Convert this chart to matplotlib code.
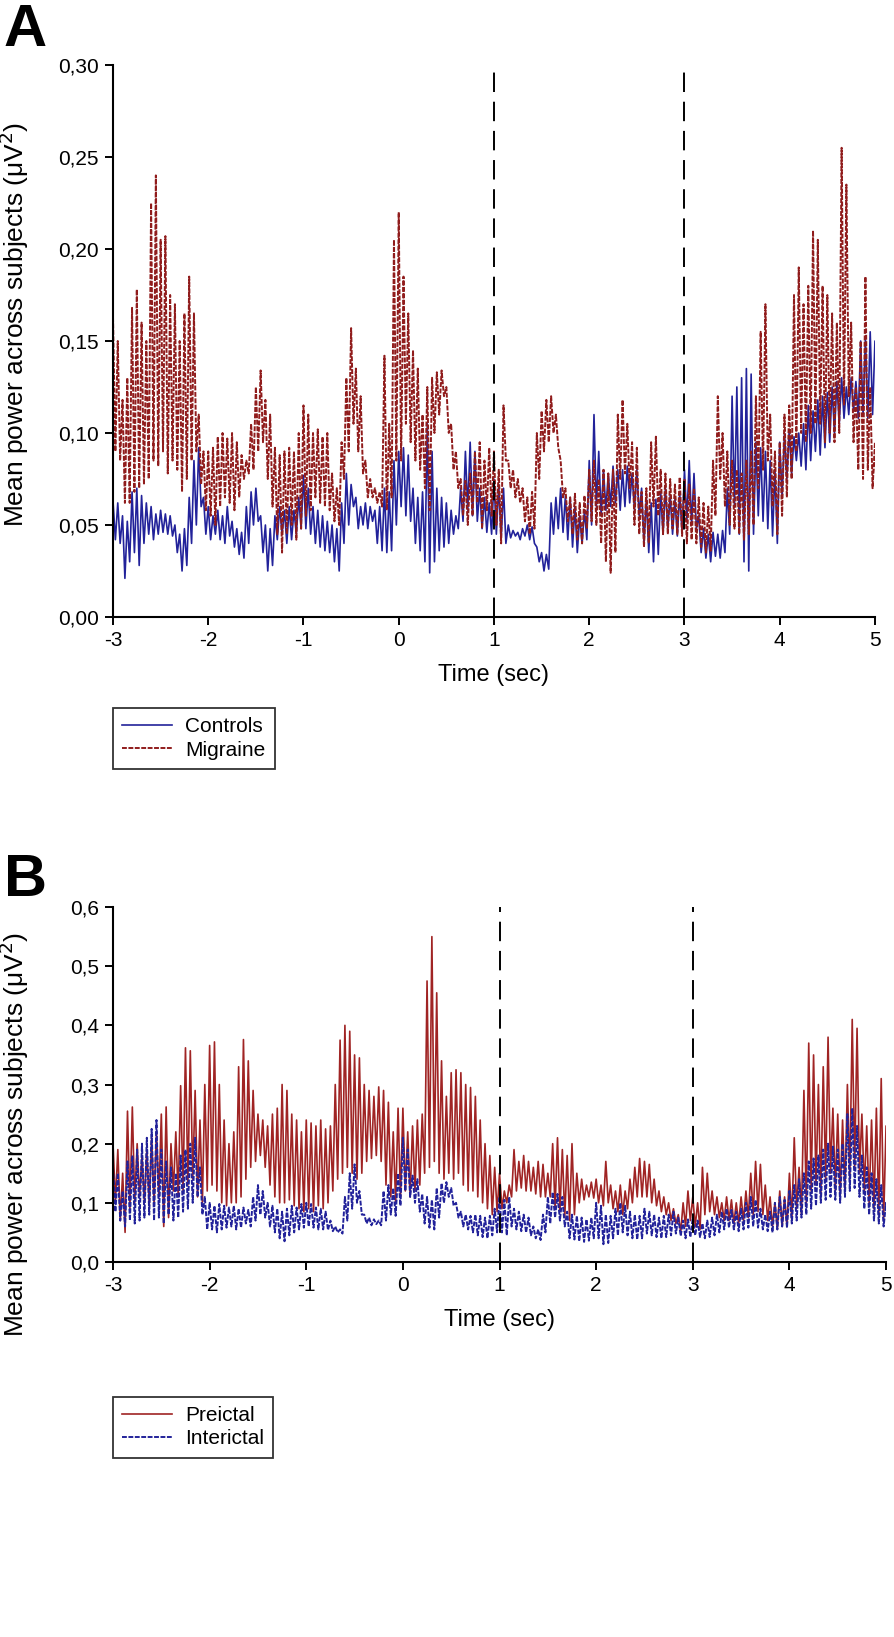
import numpy as np
import matplotlib
matplotlib.use('Agg')
import matplotlib.pyplot as plt

plt.rcParams['font.family'] = ['Liberation Sans', 'DejaVu Sans']

# sample grid, 0.05 s steps from -3 to 5 s
t = np.round(np.arange(161) * 0.05 - 3, 3)

# ---- panel A: Controls vs Migraine (peak / trough read per 0.05 s) ----
mig_hi = [
    .163, .150, .118, .130, .168, .178, .160, .150, .225, .240, .205, .207, .175, .170, .150, .165, .185, .165, .110, .090,
    .090, .092, .098, .100, .097, .100, .095, .088, .085, .105, .125, .134, .118, .110, .092, .088, .090, .092, .090, .100,
    .115, .110, .100, .102, .098, .100, .078, .070, .095, .130, .157, .135, .120, .085, .075, .070, .068, .142, .105, .205,
    .220, .185, .165, .145, .135, .110, .125, .130, .133, .134, .125, .105, .090, .075, .074, .078, .090, .095, .085, .092,
    .090, .080, .115, .085, .080, .075, .070, .065, .068, .100, .112, .118, .120, .110, .085, .070, .065, .067, .062, .066,
    .080, .085, .075, .080, .078, .080, .110, .118, .105, .095, .092, .068, .070, .095, .098, .080, .078, .075, .072, .076,
    .075, .072, .070, .065, .062, .060, .085, .120, .100, .090, .085, .080, .078, .085, .090, .120, .155, .170, .110, .090,
    .095, .110, .115, .175, .190, .170, .180, .210, .205, .180, .175, .165, .160, .255, .235, .160, .125, .150, .185, .125,
    .095]
mig_lo = [
    .090, .085, .062, .062, .068, .070, .072, .075, .085, .082, .090, .078, .085, .080, .068, .075, .085, .090, .072, .058,
    .055, .050, .060, .065, .062, .058, .065, .075, .078, .080, .090, .095, .075, .060, .045, .035, .045, .050, .042, .048,
    .055, .058, .065, .062, .060, .058, .052, .050, .075, .090, .105, .090, .078, .065, .065, .062, .060, .058, .065, .085,
    .085, .105, .095, .085, .080, .070, .058, .100, .110, .120, .100, .080, .070, .055, .050, .055, .062, .048, .058, .055,
    .050, .040, .085, .070, .065, .062, .052, .045, .048, .075, .090, .095, .100, .092, .065, .052, .045, .042, .040, .048,
    .052, .050, .040, .030, .024, .035, .075, .078, .070, .050, .045, .038, .040, .060, .055, .045, .045, .048, .045, .044,
    .040, .042, .040, .038, .035, .036, .055, .075, .060, .050, .048, .045, .042, .045, .050, .070, .080, .085, .060, .045,
    .055, .065, .075, .090, .100, .095, .100, .105, .105, .095, .100, .095, .100, .115, .120, .095, .080, .075, .080, .070,
    .053]
ctl_hi = [
    .063, .062, .055, .052, .068, .070, .066, .062, .060, .056, .058, .056, .055, .050, .045, .048, .065, .085, .092, .065,
    .060, .055, .058, .055, .060, .052, .048, .046, .060, .068, .070, .055, .050, .048, .055, .060, .058, .060, .058, .065,
    .077, .070, .060, .058, .055, .052, .050, .048, .062, .078, .072, .065, .060, .062, .060, .058, .060, .070, .068, .085,
    .090, .092, .088, .070, .065, .068, .105, .090, .070, .065, .062, .058, .055, .070, .090, .095, .090, .070, .065, .062,
    .075, .072, .070, .050, .047, .046, .048, .050, .049, .038, .035, .034, .062, .065, .070, .066, .065, .060, .055, .058,
    .085, .110, .090, .080, .078, .082, .080, .080, .082, .078, .080, .070, .065, .062, .064, .068, .070, .066, .064, .067,
    .080, .085, .078, .055, .048, .045, .046, .045, .047, .070, .120, .125, .130, .135, .132, .095, .092, .090, .085, .080,
    .095, .100, .102, .098, .100, .105, .115, .112, .118, .120, .122, .125, .128, .130, .125, .130, .128, .150, .152, .155,
    .150]
ctl_lo = [
    .042, .040, .021, .030, .035, .028, .040, .045, .042, .045, .046, .045, .044, .035, .025, .028, .040, .050, .060, .045,
    .042, .045, .042, .040, .044, .038, .034, .032, .040, .050, .052, .035, .025, .028, .042, .045, .040, .042, .045, .048,
    .048, .045, .040, .038, .036, .035, .030, .025, .040, .050, .060, .048, .050, .048, .052, .040, .036, .035, .036, .050,
    .060, .055, .052, .040, .036, .030, .024, .030, .036, .038, .040, .045, .048, .052, .058, .055, .052, .048, .046, .045,
    .045, .042, .040, .043, .044, .042, .044, .042, .040, .030, .025, .026, .045, .048, .046, .042, .038, .035, .040, .042,
    .050, .060, .055, .058, .060, .062, .058, .060, .062, .058, .055, .040, .035, .030, .034, .045, .048, .045, .044, .046,
    .052, .050, .048, .035, .032, .030, .033, .032, .035, .045, .060, .045, .030, .025, .045, .055, .052, .048, .044, .040,
    .065, .075, .078, .085, .082, .080, .085, .090, .088, .092, .095, .100, .105, .108, .110, .112, .108, .110, .108, .110,
    .112]

# ---- panel B: Preictal vs Interictal ----
pre_hi = [
    .200, .190, .150, .255, .262, .200, .180, .190, .210, .220, .250, .262, .200, .220, .298, .362, .357, .290, .240, .300,
    .366, .372, .300, .240, .200, .220, .330, .376, .340, .290, .250, .240, .230, .250, .260, .300, .290, .250, .240, .220,
    .240, .235, .230, .240, .225, .230, .300, .375, .400, .390, .350, .345, .300, .290, .280, .296, .290, .270, .220, .260,
    .260, .220, .230, .240, .250, .475, .550, .455, .340, .280, .320, .325, .320, .300, .295, .280, .240, .200, .180, .160,
    .150, .120, .130, .190, .170, .180, .170, .160, .170, .165, .150, .200, .210, .190, .180, .200, .150, .140, .130, .135,
    .140, .130, .170, .130, .120, .130, .120, .140, .160, .175, .170, .165, .140, .120, .110, .100, .090, .080, .100, .120,
    .110, .100, .160, .150, .120, .110, .100, .110, .105, .100, .110, .120, .150, .170, .165, .130, .110, .100, .120, .110,
    .150, .210, .160, .290, .370, .350, .300, .330, .380, .260, .250, .240, .300, .410, .395, .250, .230, .240, .260, .310,
    .230]
pre_lo = [
    .100, .070, .050, .090, .100, .110, .100, .095, .100, .110, .060, .075, .120, .110, .120, .130, .140, .110, .100, .120,
    .130, .120, .100, .095, .100, .100, .110, .140, .160, .170, .180, .160, .130, .110, .100, .100, .105, .095, .090, .085,
    .090, .085, .095, .090, .100, .120, .140, .150, .160, .150, .140, .150, .170, .175, .180, .170, .130, .110, .100, .110,
    .120, .110, .120, .130, .150, .160, .170, .150, .140, .150, .140, .150, .130, .120, .120, .110, .100, .090, .080, .085,
    .090, .100, .110, .120, .125, .120, .120, .115, .110, .110, .110, .090, .085, .075, .070, .080, .100, .105, .110, .108,
    .100, .095, .100, .090, .085, .080, .090, .100, .110, .110, .110, .100, .095, .085, .080, .070, .065, .050, .060, .070,
    .060, .055, .080, .085, .080, .075, .070, .070, .065, .065, .070, .075, .080, .085, .080, .070, .060, .055, .060, .060,
    .070, .090, .080, .100, .120, .130, .110, .140, .150, .120, .110, .120, .140, .160, .150, .120, .100, .090, .080, .070,
    .150]
int_hi = [
    .160, .150, .120, .170, .180, .190, .200, .210, .225, .240, .190, .170, .160, .150, .180, .190, .200, .210, .160, .110,
    .100, .095, .098, .095, .092, .095, .090, .092, .088, .110, .130, .120, .100, .095, .090, .085, .090, .095, .092, .098,
    .100, .098, .092, .090, .085, .070, .060, .055, .110, .150, .165, .120, .080, .075, .072, .070, .120, .130, .125, .150,
    .210, .190, .146, .140, .115, .110, .105, .125, .133, .135, .125, .100, .085, .080, .078, .080, .078, .075, .078, .090,
    .110, .105, .110, .090, .085, .080, .075, .060, .055, .080, .110, .118, .115, .110, .085, .080, .078, .075, .072, .075,
    .100, .095, .080, .078, .090, .100, .095, .085, .080, .078, .090, .085, .080, .075, .078, .080, .085, .075, .070, .072,
    .075, .070, .065, .070, .075, .080, .085, .090, .088, .085, .090, .100, .110, .105, .090, .080, .085, .100, .110, .105,
    .120, .130, .140, .150, .170, .175, .180, .190, .200, .195, .190, .200, .250, .260, .230, .180, .160, .150, .140, .130,
    .100]
int_lo = [
    .085, .070, .060, .070, .065, .070, .075, .080, .070, .075, .065, .080, .070, .075, .085, .090, .100, .110, .080, .055,
    .055, .050, .055, .058, .060, .055, .058, .065, .060, .070, .080, .075, .060, .050, .040, .035, .045, .050, .055, .058,
    .060, .058, .055, .055, .054, .052, .050, .048, .070, .090, .100, .080, .065, .062, .064, .062, .070, .080, .078, .095,
    .120, .110, .100, .085, .065, .058, .055, .075, .100, .110, .095, .075, .060, .055, .050, .045, .042, .040, .045, .050,
    .050, .045, .060, .055, .052, .050, .045, .040, .037, .050, .065, .075, .070, .060, .040, .038, .035, .034, .036, .040,
    .040, .030, .032, .040, .045, .050, .045, .040, .038, .040, .048, .045, .042, .040, .042, .045, .048, .044, .040, .042,
    .045, .042, .040, .042, .045, .050, .055, .058, .055, .052, .055, .058, .060, .058, .055, .052, .050, .055, .060, .058,
    .065, .070, .075, .080, .090, .095, .100, .105, .110, .105, .100, .110, .120, .125, .110, .090, .080, .070, .065, .060,
    .050]

xticks = [-3, -2, -1, 0, 1, 2, 3, 4, 5]
yticks_a = [0.00, 0.05, 0.10, 0.15, 0.20, 0.25, 0.30]
yticks_b = [0.0, 0.1, 0.2, 0.3, 0.4, 0.5, 0.6]
event_times = [1, 3]

RED = '#901c1c'
RED_B = '#a02424'
BLUE = '#22229a'


def zigzag(hi, lo):
    # alternate peak and trough, trough half a step later
    x = np.empty(2 * len(t))
    y = np.empty(2 * len(t))
    x[0::2] = t
    x[1::2] = t + 0.025
    y[0::2] = hi
    y[1::2] = lo
    return x, y


def style_axes(ax, yticks, fmt, ymax):
    ax.set_xlim(-3, 5)
    ax.set_ylim(0, ymax)
    for s in ['top', 'right']:
        ax.spines[s].set_visible(False)
    for s in ['left', 'bottom']:
        ax.spines[s].set_linewidth(1.5)
    ax.set_xticks(xticks)
    ax.set_xticklabels([str(v) for v in xticks])
    ax.set_yticks(yticks)
    ax.set_yticklabels([fmt.format(v).replace('.', ',') for v in yticks])
    ax.tick_params(direction='out', length=6, width=1.4, labelsize=15, pad=4)
    for x in event_times:
        ax.axvline(x, color='black', lw=1.4, dashes=(10, 5), zorder=5)
    ax.set_xlabel('Time (sec)', fontsize=17, labelpad=10)
    ax.set_ylabel('Mean power across subjects (μV$^2$)', fontsize=19)


fig = plt.figure(figsize=(8.94, 16.37), dpi=100)

# panel A
axA = fig.add_axes([0.1264, 0.6231, 0.8523, 0.3372])
x, y = zigzag(ctl_hi, ctl_lo)
axA.plot(x, y, color=BLUE, lw=1.2, label='Controls')
x, y = zigzag(mig_hi, mig_lo)
axA.plot(x, y, color=RED, lw=1.4, ls=(0, (2.5, 0.8)), label='Migraine')
style_axes(axA, yticks_a, '{:.2f}', 0.30)
axA.yaxis.set_label_coords(-0.108, 0.53)
leg = axA.legend(loc='upper left', bbox_to_anchor=(0, -0.165), fontsize=15,
                 frameon=True, fancybox=False, edgecolor='black',
                 handlelength=2.4, handletextpad=0.6, borderpad=0.45,
                 labelspacing=0.2, borderaxespad=0)
leg.get_frame().set_linewidth(1.3)

# panel B
axB = fig.add_axes([0.1264, 0.2291, 0.8647, 0.2168])
x, y = zigzag(pre_hi, pre_lo)
axB.plot(x, y, color=RED_B, lw=1.2, label='Preictal')
x, y = zigzag(int_hi, int_lo)
axB.plot(x, y, color=BLUE, lw=1.4, ls=(0, (2.5, 0.8)), label='Interictal')
style_axes(axB, yticks_b, '{:.1f}', 0.6)
axB.yaxis.set_label_coords(-0.106, 0.36)
leg = axB.legend(loc='upper left', bbox_to_anchor=(0, -0.38), fontsize=15,
                 frameon=True, fancybox=False, edgecolor='black',
                 handlelength=2.4, handletextpad=0.6, borderpad=0.45,
                 labelspacing=0.2, borderaxespad=0)
leg.get_frame().set_linewidth(1.3)

fig.text(0.004, 0.9719, 'A', fontsize=43, fontweight='bold', va='baseline')
fig.text(0.004, 0.4527, 'B', fontsize=43, fontweight='bold', va='baseline')

fig.savefig('out.png', dpi=100)
